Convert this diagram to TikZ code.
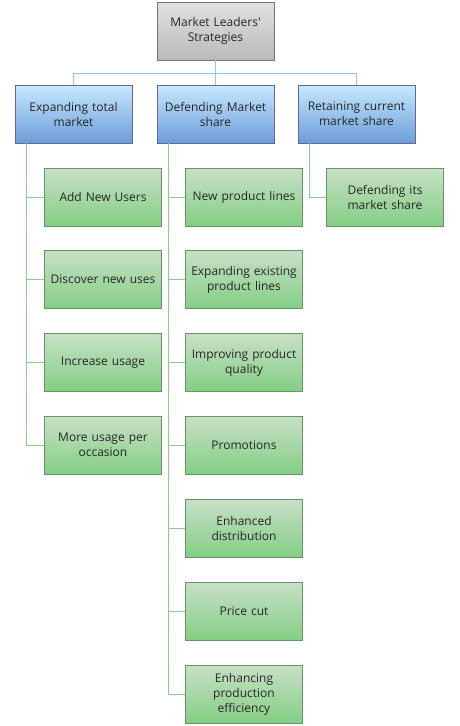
\documentclass[tikz,border=0pt]{standalone}
\usepackage{fontspec}
\setmainfont{Open Sans}
\usetikzlibrary{positioning, calc}

\tikzset{
  box/.style={draw, minimum width=117pt, minimum height=58pt, text width=114pt,
    inner xsep=1pt, align=center, font=\fontsize{12}{15}\selectfont, text=black!85, line width=0.6pt},
  rootbox/.style={box, draw=black!55, top color=black!12, bottom color=black!27},
  headbox/.style={box, draw=blue!35!black!60, top color=blue!40!cyan!22!white, bottom color=blue!55!cyan!50!white!85!black},
  leafbox/.style={box, draw=green!30!black!60, top color=green!45!black!22!white, bottom color=green!60!black!48!white},
  blueline/.style={draw=blue!50!cyan!45!white, line width=1pt},
  greenline/.style={draw=green!55!black!45!white, line width=1pt}
}

\begin{document}
\begin{tikzpicture}[x=1pt, y=-1pt]
\useasboundingbox (0,0) rectangle (460,726);

\node[rootbox] (root) at (215.5,31) {Market Leaders\textquotesingle\\Strategies};

\node[headbox] (expand) at (73.5,114) {Expanding total\\market};
\node[headbox] (defend) at (215.5,114) {Defending Market\\share};
\node[headbox] (retain) at (356.5,114) {Retaining current\\market share};

\coordinate (hub) at (215.5,73);
\draw[blueline] (root.south) -- (hub);
\draw[blueline] (hub) -| (expand.north);
\draw[blueline] (hub) -- (defend.north);
\draw[blueline] (hub) -| (retain.north);

% first column
\node[leafbox] (newusers) at (103,197) {Add New Users};
\node[leafbox] (newuses) at (103,279.5) {Discover new uses};
\node[leafbox] (usage) at (103,362.5) {Increase usage};
\node[leafbox] (occasion) at (103,445) {More usage per\\occasion};

% second column
\node[leafbox] (lines) at (244,197) {New product lines};
\node[leafbox] (existing) at (244,279.5) {Expanding existing\\product lines};
\node[leafbox] (quality) at (244,362.5) {Improving product\\quality};
\node[leafbox] (promo) at (244,445) {Promotions};
\node[leafbox] (distrib) at (244,528) {Enhanced\\distribution};
\node[leafbox] (price) at (244,611) {Price cut};
\node[leafbox] (efficiency) at (244,694) {Enhancing\\production\\efficiency};

% third column
\node[leafbox] (share) at (385,197) {Defending its\\market share};

\coordinate (expandbar) at ([xshift=12pt]expand.south west);
\coordinate (defendbar) at ([xshift=12pt]defend.south west);
\coordinate (retainbar) at ([xshift=12pt]retain.south west);

\draw[greenline] (expandbar) |- (newusers.west);
\draw[greenline] (expandbar) |- (newuses.west);
\draw[greenline] (expandbar) |- (usage.west);
\draw[greenline] (expandbar) |- (occasion.west);

\draw[greenline] (defendbar) |- (lines.west);
\draw[greenline] (defendbar) |- (existing.west);
\draw[greenline] (defendbar) |- (quality.west);
\draw[greenline] (defendbar) |- (promo.west);
\draw[greenline] (defendbar) |- (distrib.west);
\draw[greenline] (defendbar) |- (price.west);
\draw[greenline] (defendbar) |- (efficiency.west);

\draw[greenline] (retainbar) |- (share.west);

\end{tikzpicture}
\end{document}
